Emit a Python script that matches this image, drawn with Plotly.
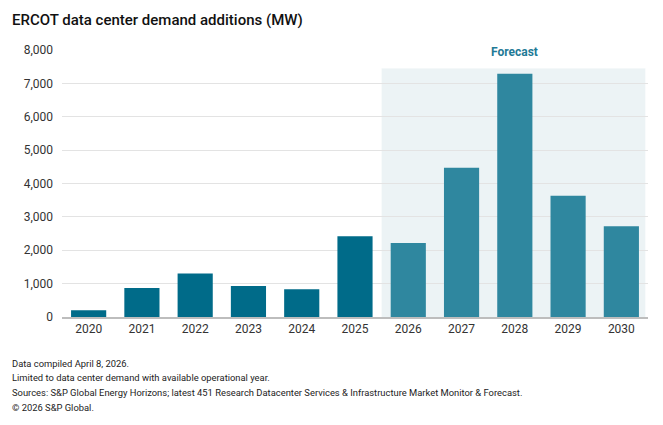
import plotly.graph_objects as go

years = ["2020", "2021", "2022", "2023", "2024", "2025", "2026", "2027", "2028", "2029", "2030"]
demand_mw = [200, 870, 1300, 930, 830, 2420, 2220, 4470, 7290, 3630, 2720]
is_forecast = [False] * 6 + [True] * 5
forecast_top = 7450
title = "ERCOT data center demand additions (MW)"
notes = [
    "Data compiled April 8, 2026.",
    "Limited to data center demand with available operational year.",
    "Sources: S&P Global Energy Horizons; latest 451 Research Datacenter Services & Infrastructure Market Monitor & Forecast.",
    "\u00a9 2026 S&P Global.",
]

HIST = "#006b89"
FCST = "#2f879f"
colors = [FCST if f else HIST for f in is_forecast]

ML, MR, MT, MB = 62, 15, 50, 108
W, H = 663, 425
plot_w = W - ML - MR
plot_h = H - MT - MB


def px_x(px):
    return (px - ML) / plot_w


def px_y(py):
    return (H - MB - py) / plot_h


fig = go.Figure()
fig.add_trace(go.Bar(x=years, y=demand_mw, marker=dict(color=colors, line_width=0),
                     hoverinfo="x+y"))

# forecast shading
fig.add_shape(type="rect", xref="x", yref="y", x0=5.5, x1=10.45, y0=0, y1=forecast_top,
              fillcolor="#ecf3f5", line_width=0, layer="below")
# white box behind the "Forecast" label hiding the top gridline
fig.add_shape(type="rect", xref="x", yref="y", x0=5.5, x1=10.45, y0=forecast_top, y1=8300,
              fillcolor="white", line_width=0, layer="above")

anns = [
    dict(x=8, y=7930, xref="x", yref="y", text="<b>Forecast</b>", showarrow=False,
         font=dict(size=12, color="#1f7a96", family="Roboto"), yanchor="middle"),
    dict(x=px_x(10), y=px_y(20), xref="paper", yref="paper", xanchor="left",
         yanchor="middle", showarrow=False, text=title,
         font=dict(size=15, color="#111111", family="Roboto", weight=500)),
]
for i, line in enumerate(notes):
    anns.append(dict(x=px_x(10), y=px_y(363 + i * 14.7), xref="paper", yref="paper",
                     xanchor="left", yanchor="middle", showarrow=False, text=line,
                     font=dict(size=9.4, color="#222222", family="Roboto")))

fig.update_layout(
    width=W, height=H,
    margin=dict(l=ML, r=MR, t=MT, b=MB),
    paper_bgcolor="white", plot_bgcolor="white",
    font=dict(family="Roboto", size=12, color="#333333"),
    bargap=0.34,
    showlegend=False,
    annotations=anns,
    xaxis=dict(showgrid=False, showline=True, linecolor="#bdbdbd", linewidth=1.5,
               ticks="", tickfont=dict(size=12, color="#333333"), range=[-0.5, 10.5]),
    yaxis=dict(range=[0, 8000], tickvals=[0, 1000, 2000, 3000, 4000, 5000, 6000, 7000, 8000],
               tickformat=",", showgrid=True, gridcolor="#e3e3e3", gridwidth=1.2,
               zeroline=False, ticks="", ticklabelstandoff=8,
               tickfont=dict(size=12, color="#333333")),
)

fig.write_html("out.html")
